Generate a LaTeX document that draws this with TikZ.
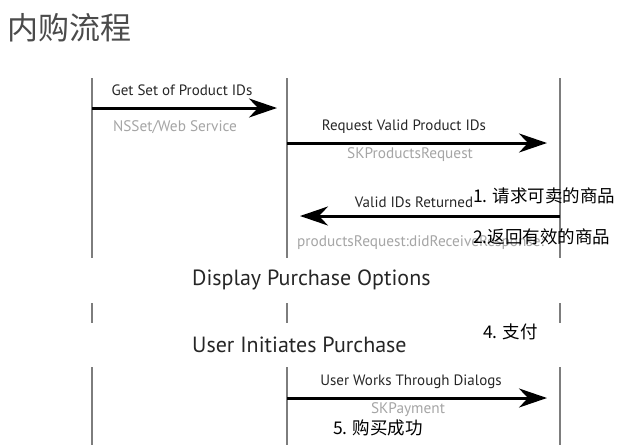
\documentclass[tikz,border=0pt]{standalone}
\usepackage{fontspec}
\setmainfont{PT Sans}
\newfontfamily\cjk{Noto Sans CJK SC}
\usetikzlibrary{arrows.meta,positioning}
\definecolor{lifegray}{RGB}{125,125,125}
\definecolor{hintgray}{RGB}{165,165,165}
\definecolor{titlegray}{RGB}{75,75,75}
\tikzset{
    lifeline/.style={line width=2pt, lifegray},
    msg/.style={line width=3pt, -{Stealth[length=28pt,width=19pt,inset=9pt]}},
    msglabel/.style={font=\fontsize{15}{17}\selectfont, text=black!85, inner sep=0pt},
    apilabel/.style={font=\fontsize{15.3}{17}\selectfont, text=hintgray, inner sep=0pt},
    steplabel/.style={font=\fontsize{22}{25}\selectfont, text=black!85, inner sep=0pt, anchor=west},
    note/.style={font=\cjk\fontsize{17.5}{20}\selectfont, inner sep=0pt, anchor=west},
}
\begin{document}
\begin{tikzpicture}[x=1pt, y=-1pt]
    \useasboundingbox (0,0) rectangle (642,445);
    \node[font=\cjk\fontsize{31}{34}\selectfont, text=titlegray, inner sep=0pt, anchor=west] (title) at (7,28) {内购流程};

    % Lifelines
    \foreach \x in {92, 287, 560} {
        \foreach \ya/\yb in {78/258, 303/323, 367/445} {
            \draw[lifeline] (\x,\ya) -- (\x,\yb);
        }
    }

    % Messages
    \coordinate (m1s) at (92,108);   \coordinate (m1e) at (277,108);
    \coordinate (m2s) at (287,143);  \coordinate (m2e) at (547,143);
    \coordinate (m3s) at (560,216);  \coordinate (m3e) at (300,216);
    \coordinate (m4s) at (287,398);  \coordinate (m4e) at (547,398);
    \draw[msg] (m1s) -- (m1e);
    \draw[msg] (m2s) -- (m2e);
    \draw[msg] (m3s) -- (m3e);
    \draw[msg] (m4s) -- (m4e);

    \node[msglabel] (getset) at (182,90) {Get Set of Product IDs};
    \node[apilabel] (nsset) at (175,127) {NSSet/Web Service};
    \node[msglabel] (reqvalid) at (404,127) {Request Valid Product IDs};
    \node[apilabel] (skreq) at (410,155) {SKProductsRequest};
    \node[msglabel] (validret) at (414,202) {Valid IDs Returned};
    \node[apilabel, anchor=west] (didrecv) at (297,243) {productsRequest:didReceiveResponse:};
    \node[msglabel] (dialogs) at (411,382) {User Works Through Dialogs};
    \node[apilabel] (skpay) at (408,410) {SKPayment};

    % Steps
    \node[steplabel] (display) at (192,280) {Display Purchase Options};
    \node[steplabel] (initiate) at (192,345) {User Initiates Purchase};

    % Notes
    \node[note] (n1) at (473,196) {1. 请求可卖的商品};
    \node[note] (n2) at (473,237) {2.返回有效的商品};
    \node[note] (n4) at (483,332) {4. 支付};
    \node[note] (n5) at (333,428) {5. 购买成功};
\end{tikzpicture}
\end{document}
